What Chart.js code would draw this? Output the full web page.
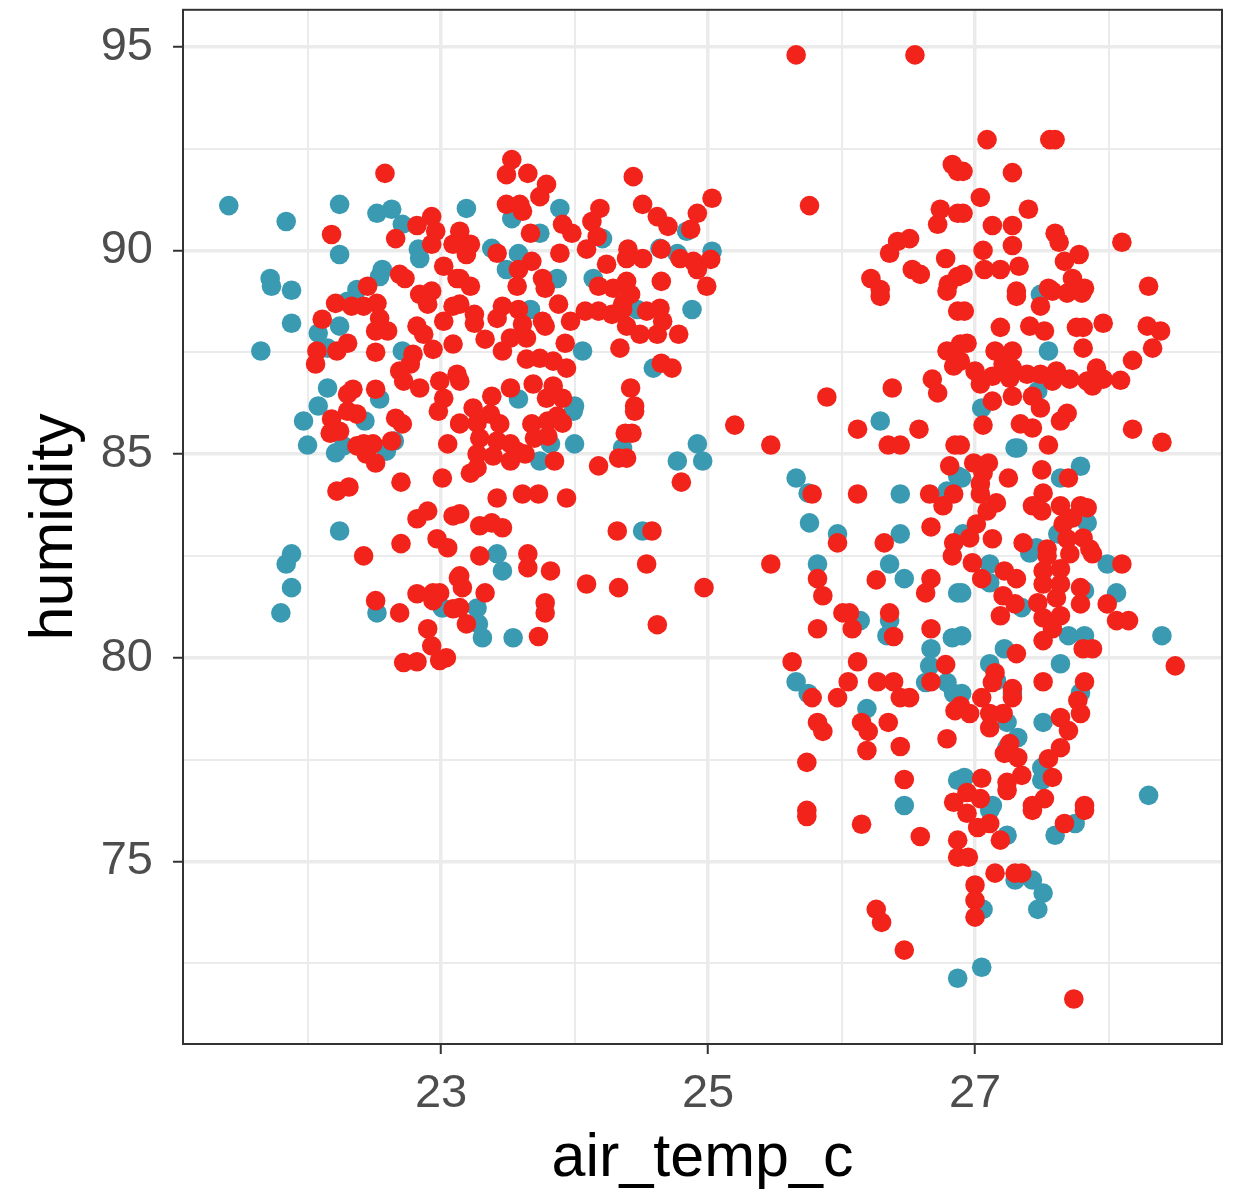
<!DOCTYPE html>
<html>
<head>
<meta charset="utf-8">
<script src="https://cdn.jsdelivr.net/npm/chart.js@4/dist/chart.umd.min.js"></script>
<style>
  html, body { margin: 0; padding: 0; background: #ffffff; }
  #wrap { width: 1234px; height: 1196px; }
</style>
</head>
<body>
<div id="wrap"><canvas id="chart" width="1234" height="1196"></canvas></div>
<script>
// Axis ranges and tick positions
const xRange = [21.067, 28.85];
const yRange = [70.515, 95.907];
const xMajorTicks = [23, 25, 27];
const xMinorTicks = [22, 24, 26, 28];
const yMajorTicks = [75, 80, 85, 90, 95];
const yMinorTicks = [72.5, 77.5, 82.5, 87.5, 92.5];

// Observations: [air_temp_c, humidity]
const tealPoints = [
  [21.41,91.10],[21.84,90.71],[21.72,89.31],[21.73,89.12],[21.88,89.02],[21.88,88.21],[21.65,87.53],
  [22.24,91.13],[22.52,90.91],[22.63,91.01],[22.71,90.64],[22.24,89.90],[22.83,90.03],[22.84,89.80],
  [22.56,89.53],[22.54,89.36],[22.37,89.04],[22.30,88.75],[22.08,87.97],[22.24,88.14],[22.15,87.60],
  [22.71,87.53],[22.15,86.62],[22.08,86.18],[22.54,86.35],[21.97,85.81],[22.00,85.22],[22.21,85.03],
  [22.27,85.20],[22.43,85.81],[22.59,85.07],[22.65,85.32],[22.24,83.11],[21.88,82.55],[21.84,82.30],
  [21.88,81.72],[21.80,81.10],[22.52,81.10],[23.01,81.22],
  [23.19,91.03],[23.53,90.78],[23.89,91.03],[23.74,90.42],[24.21,90.29],[23.38,90.05],[23.58,89.92],
  [23.49,89.53],[23.87,89.31],[24.14,89.31],[23.67,88.55],[24.64,90.05],[24.77,89.92],[24.84,90.47],
  [25.03,89.98],[24.88,88.55],[24.47,88.55],[24.06,87.53],[24.59,87.11],[23.58,86.35],[24.00,86.18],
  [24.00,85.25],[24.36,85.15],[23.74,84.83],[23.82,85.25],[23.99,86.05],[24.77,84.83],[24.92,85.25],
  [24.96,84.83],[24.51,83.11],[23.42,82.55],[23.46,82.13],[23.27,81.22],[23.28,80.83],[23.31,80.49],
  [23.54,80.49],
  [26.29,85.81],[25.66,84.41],[25.75,84.04],[25.76,83.31],[25.97,83.04],[26.44,84.02],[26.44,83.04],
  [26.79,84.09],[26.87,84.46],[25.82,82.30],[26.36,82.30],[26.47,81.94],[26.87,81.59],[26.14,80.91],
  [26.36,80.91],[26.34,80.54],[26.83,80.49],[26.67,80.22],[26.66,79.80],[26.63,79.39],[26.79,79.39],
  [26.84,79.12],[25.66,79.41],[25.75,79.12],[26.19,78.75],[26.87,76.99],[26.47,76.37],[26.87,72.13],
  [27.11,76.25],[27.24,75.64],[27.60,75.64],[27.75,75.93],[27.30,74.54],[27.43,74.54],[27.51,74.22],
  [27.47,73.82],[27.06,73.82],[27.05,72.40],[28.30,76.62],
  [27.11,82.30],[27.11,81.84],[26.90,81.59],[27.41,82.57],[27.99,82.30],[28.06,81.59],[27.82,81.64],
  [27.35,81.23],[26.90,80.54],[27.70,80.54],[27.82,80.54],[28.40,80.54],[27.22,80.22],[27.64,79.85],
  [27.11,79.85],[27.16,79.44],[27.28,79.12],[27.79,79.14],[26.90,79.12],[27.51,78.41],[27.24,78.41],
  [27.32,78.04],[27.24,77.79],[27.50,77.30],[27.50,76.99],[26.92,77.06],[27.13,76.37],
  [27.55,87.53],[27.47,86.55],[27.05,86.13],[27.30,85.15],[27.32,85.15],[27.79,84.70],[27.64,84.41],
  [26.90,84.41],[27.84,83.31],[27.62,83.04],[26.91,83.04],[27.46,82.70],[27.49,88.92]
];

const redPoints = [
  [22.58,91.89],[22.18,90.39],[22.66,90.29],[22.82,90.61],[22.93,90.83],[22.96,90.47],[22.93,90.15],
  [23.09,90.15],[23.02,89.61],[23.12,89.31],[22.69,89.41],[22.73,89.31],[22.45,89.12],[22.84,88.92],
  [22.93,89.00],[22.90,88.68],[23.09,88.63],[22.21,88.70],[22.33,88.63],[22.42,88.63],[22.52,88.70],
  [22.54,88.33],[22.51,88.02],[22.60,88.02],[22.11,88.31],[22.82,88.14],[22.87,87.94],[23.02,88.26],
  [22.30,87.72],[22.07,87.53],[22.06,87.21],[22.22,87.53],[22.51,87.50],[22.79,87.45],[22.94,87.57],
  [23.09,87.70],[22.77,87.21],[22.72,86.79],[22.84,86.62],[22.99,86.79],[23.02,86.37],[22.51,86.59],
  [22.30,86.47],[22.34,86.59],[23.12,86.96],[22.69,87.04],
  [23.53,92.23],[23.49,91.86],[23.65,91.89],[23.79,91.62],[23.74,91.32],[23.49,91.13],[23.59,91.13],
  [23.61,90.96],[23.67,90.42],[23.91,90.64],[23.98,90.42],[24.19,91.03],[24.13,90.71],[24.17,90.34],
  [24.09,90.03],[24.44,91.81],[24.51,91.13],[24.62,90.83],[24.70,90.59],[24.87,90.52],[24.92,90.91],
  [25.03,91.28],[23.89,89.93],[24.40,90.03],[24.39,89.80],[24.51,89.80],[24.65,90.03],[24.79,89.80],
  [24.89,89.73],[24.92,89.53],[25.02,89.78],[24.99,89.12],[24.65,89.24],[24.24,89.66],[24.18,89.12],
  [24.29,89.07],[24.39,89.24],[24.42,88.92],[24.36,88.68],[23.14,90.47],[23.22,90.15],[23.19,89.90],
  [23.42,89.93],[23.68,89.73],[23.76,89.31],[23.78,89.07],[23.58,89.53],[23.57,89.12],[23.14,89.31],
  [23.22,89.12],[23.14,88.68],[23.25,88.43],[23.25,88.21],[23.46,88.63],[23.58,88.55],[23.42,88.33],
  [23.61,88.19],[23.76,88.26],[23.78,88.14],[23.88,88.68],[23.97,88.26],[24.08,88.51],[24.18,88.51],
  [24.28,88.43],[24.36,88.55],[24.39,88.14],[24.49,87.94],[24.62,87.94],[24.78,87.94],[24.54,88.51],
  [24.64,88.58],[24.66,88.26],[23.33,87.82],[23.46,87.53],[23.52,87.85],[23.64,87.85],[23.64,87.33],
  [23.74,87.35],[23.84,87.28],[23.94,87.11],[23.93,87.72],[24.34,87.60],[24.65,87.23],[24.73,87.11],
  [23.69,86.72],[23.84,86.67],[23.52,86.62],[23.38,86.42],[23.79,86.37],[23.91,86.37],[24.42,86.62],
  [24.45,86.18],[23.14,86.79],[23.24,86.13],
  [22.18,85.86],[22.17,85.51],[22.24,85.56],[22.30,86.05],[22.37,85.98],[22.42,85.25],[22.49,85.25],
  [22.44,85.00],[22.51,84.78],[22.37,85.20],[22.63,85.32],[22.66,85.88],[22.71,85.74],[22.98,86.05],
  [23.05,85.25],[23.14,85.76],[22.22,84.09],[22.31,84.19],[22.70,84.31],[23.01,84.41],[22.82,83.41],
  [22.90,83.60],[23.09,83.48],[22.70,82.80],[22.97,82.92],[23.05,82.70],[22.42,82.50],[22.51,81.40],
  [22.69,81.10],[22.82,81.57],[22.94,81.59],[22.99,81.59],[22.94,81.40],[23.09,81.20],[23.13,81.96],
  [22.90,80.71],[22.93,80.29],[22.72,79.88],[22.82,79.90],[23.04,80.00],[22.99,79.93],
  [23.14,85.74],[23.27,85.76],[23.37,85.98],[23.44,85.74],[23.29,85.39],[23.42,85.32],[23.52,85.25],
  [23.57,85.07],[23.63,85.00],[23.27,85.00],[23.39,84.95],[23.52,84.83],[23.22,84.53],[23.27,84.66],
  [23.68,85.74],[23.70,85.39],[23.80,85.81],[23.87,85.93],[23.91,85.76],[23.80,85.44],[23.85,84.83],
  [24.38,85.51],[24.43,85.51],[24.33,84.90],[24.39,84.90],[24.45,86.05],[24.18,84.71],[24.80,84.31],
  [23.42,83.92],[23.61,84.02],[23.73,84.02],[23.94,83.92],[23.14,83.53],[23.29,83.24],[23.38,83.31],
  [23.46,83.19],[24.32,83.11],[24.58,83.11],[23.29,82.50],[23.65,82.55],[23.65,82.21],[23.82,82.13],
  [23.14,82.01],[23.16,81.72],[23.33,81.59],[24.54,82.30],[24.09,81.81],[24.33,81.72],[24.97,81.72],
  [23.78,81.35],[23.78,81.10],[23.14,81.23],[23.19,80.83],[24.62,80.81],[23.73,80.52],
  [25.66,94.80],[26.55,94.80],[25.76,91.10],[26.83,92.11],[26.87,91.94],[26.74,91.01],[26.72,90.64],
  [26.87,90.91],[26.51,90.29],[26.42,90.22],[26.36,89.93],[26.78,89.80],[26.22,89.31],[26.53,89.53],
  [26.59,89.41],[26.29,89.04],[26.80,89.17],[26.87,89.36],
  [27.09,92.72],[27.56,92.72],[27.60,92.72],[26.91,91.94],[27.28,91.91],[27.04,91.30],[26.91,90.91],
  [27.40,91.01],[27.13,90.61],[27.28,90.61],[27.28,90.12],[27.60,90.42],[27.63,90.20],[28.10,90.20],
  [27.06,90.00],[27.07,89.53],[27.19,89.53],[27.33,89.61],[27.78,89.90],[27.67,89.73],[26.91,89.41],
  [27.73,89.31],[27.82,89.07],[27.55,89.07],[27.31,89.00],[28.30,89.12],
  [26.29,88.87],[26.79,89.00],[26.87,88.51],[26.79,87.53],[26.84,87.16],[26.89,87.70],[26.68,86.84],
  [26.72,86.50],[26.38,86.62],[25.89,86.40],[25.20,85.71],[25.47,85.22],[26.12,85.61],[26.58,85.61],
  [26.35,85.22],[26.44,85.22],[26.85,85.22],[26.81,84.71],[25.78,84.02],[26.12,84.02],[26.66,84.02],
  [26.84,84.02],[26.76,83.73],[26.67,83.21],[25.97,82.82],[26.32,82.82],[26.84,82.82],
  [27.31,88.87],[27.58,89.00],[27.69,88.95],[27.80,88.95],[26.92,88.51],[27.49,88.63],[27.19,88.11],
  [27.41,88.14],[27.52,88.02],[27.76,88.11],[27.81,88.11],[27.96,88.21],[28.29,88.14],[28.39,88.02],
  [28.33,87.60],[27.81,87.60],[26.94,87.72],[27.15,87.53],[27.28,87.53],[26.89,87.28],[27.00,87.04],
  [27.04,86.72],[27.13,86.91],[27.21,87.21],[27.28,87.11],[27.26,86.86],[27.39,86.96],[27.49,86.96],
  [27.61,87.04],[27.58,86.79],[27.71,86.84],[27.84,86.79],[27.88,86.67],[27.91,87.11],[27.96,86.84],
  [28.09,86.81],[28.18,87.30],[27.13,86.30],[27.28,86.42],[27.43,86.42],[27.49,86.13],[27.43,85.64],
  [27.34,85.74],[27.69,86.00],[27.64,85.81],[27.06,85.71],[27.55,85.22],[28.18,85.61],[28.40,85.29],
  [26.89,85.22],[26.99,84.78],[27.10,84.78],[27.06,84.53],[27.04,84.27],[27.25,84.41],[27.50,84.61],
  [27.70,84.41],[27.04,84.02],[27.16,83.80],[27.09,83.60],[27.51,84.04],[27.43,83.73],[27.50,83.60],
  [27.64,83.73],[27.79,83.73],[27.84,83.68],[27.73,83.43],[27.66,83.28],[27.01,83.28],[26.96,82.94],
  [27.13,82.92],[27.36,82.82],[27.69,82.92],[27.81,82.94],[27.86,82.67],[27.54,82.67],
  [25.47,82.30],[25.82,81.94],[25.86,81.52],[26.26,81.91],[26.67,81.94],[26.63,81.59],[26.01,81.10],
  [26.06,81.10],[26.08,80.71],[26.36,81.10],[26.39,80.52],[25.82,80.71],[26.67,80.71],[26.83,82.50],
  [25.63,79.90],[26.12,79.90],[26.78,79.83],[26.05,79.41],[25.97,79.02],[25.78,79.02],[26.27,79.41],
  [26.39,79.41],[26.44,79.02],[26.51,79.02],[26.67,79.41],[26.85,78.70],[25.82,78.41],[25.86,78.19],
  [26.15,78.41],[26.20,78.19],[26.35,78.41],[26.44,77.82],[26.19,77.72],[26.79,78.01],[25.74,77.43],
  [26.47,77.01],[25.74,76.25],[26.84,76.45],
  [26.98,82.33],[27.05,81.94],[27.22,82.13],[27.31,81.94],[27.21,81.52],[27.30,81.32],[27.19,81.03],
  [27.54,82.50],[27.51,82.13],[27.64,82.18],[27.51,81.81],[27.64,81.81],[27.61,81.47],[27.79,81.72],
  [27.79,81.32],[27.47,81.35],[27.51,80.98],[27.64,81.03],[27.58,80.71],[27.51,80.42],[27.71,82.55],
  [27.88,82.55],[28.10,82.30],[27.99,81.32],[28.06,80.91],[28.15,80.91],[27.31,80.10],[27.81,80.22],
  [27.88,80.22],[28.50,79.80],[27.15,79.63],[27.13,79.39],[27.51,79.41],[27.82,79.41],[27.05,79.02],
  [27.28,79.24],[27.28,79.02],[26.89,78.82],[26.96,78.63],[27.11,78.63],[27.21,78.63],[27.11,78.28],
  [27.77,78.95],[27.79,78.63],[27.64,78.53],[27.70,78.21],[27.64,77.79],[27.55,77.52],[27.58,77.06],
  [27.26,77.89],[27.22,77.65],[27.32,77.55],[27.35,77.11],[27.24,76.94],[27.24,76.74],[27.05,77.04],
  [26.94,76.69],[27.04,76.54],[27.52,76.54],[27.43,76.37],[27.82,76.37],
  [25.74,76.10],[26.15,75.91],[26.59,75.61],[26.87,75.52],[26.87,75.10],[26.26,73.82],[26.30,73.50],
  [26.47,72.82],
  [26.94,76.18],[27.02,75.83],[27.11,75.93],[26.95,75.10],[27.19,75.52],[27.43,76.25],[27.67,75.93],
  [27.82,76.25],[27.15,74.71],[27.30,74.71],[27.35,74.71],[27.00,74.42],[27.00,74.04],[27.00,73.63],
  [27.74,71.62]
];

const TEAL = '#3A9AB2';
const RED = '#F2231A';
const FONT = "'Liberation Sans', Arial, sans-serif";

const toXY = arr => arr.map(([x, y]) => ({ x, y }));

// Dark frame around the plotting panel
const panelFrame = {
  id: 'panelFrame',
  afterDatasetsDraw(chart) {
    const { ctx, chartArea: a } = chart;
    ctx.save();
    ctx.strokeStyle = '#333333';
    ctx.lineWidth = 2;
    ctx.strokeRect(a.left, a.top, a.right - a.left, a.bottom - a.top);
    ctx.restore();
  }
};

function gridStyle(majors) {
  return {
    color: '#EBEBEB',
    lineWidth: c => (c.tick && majors.includes(c.tick.value)) ? 3.5 : 2,
    drawTicks: true,
    tickLength: 10,
    tickWidth: 2,
    tickColor: c => (c.tick && majors.includes(c.tick.value)) ? '#333333' : 'rgba(0,0,0,0)'
  };
}

// Keep tick labels from pushing the panel inward
function noLabelPadding(s) {
  s.paddingTop = 0; s.paddingBottom = 0; s.paddingLeft = 0; s.paddingRight = 0;
}

new Chart(document.getElementById('chart'), {
  type: 'scatter',
  data: {
    datasets: [
      { label: 'red', data: toXY(redPoints), backgroundColor: RED, pointRadius: 9.8, pointHoverRadius: 9.8, borderWidth: 0 },
      { label: 'teal', data: toXY(tealPoints), backgroundColor: TEAL, pointRadius: 9.8, pointHoverRadius: 9.8, borderWidth: 0 }
    ]
  },
  options: {
    responsive: false,
    animation: false,
    devicePixelRatio: 1,
    layout: { padding: { left: 0, top: 8, right: 12, bottom: 0 } },
    plugins: { legend: { display: false }, tooltip: { enabled: false } },
    scales: {
      x: {
        type: 'linear',
        min: xRange[0],
        max: xRange[1],
        afterFit(s) { s.height = 152; noLabelPadding(s); },
        afterBuildTicks(s) { s.ticks = [...xMinorTicks, ...xMajorTicks].sort((a, b) => a - b).map(v => ({ value: v })); },
        ticks: {
          autoSkip: false,
          maxRotation: 0,
          padding: 12,
          color: '#4D4D4D',
          font: { family: FONT, size: 47 },
          callback: v => xMajorTicks.includes(v) ? String(v) : ''
        },
        grid: gridStyle(xMajorTicks),
        border: { display: false },
        title: { display: true, text: 'air_temp_c', color: '#000000', font: { family: FONT, size: 61 }, padding: { top: 0, bottom: 0 } }
      },
      y: {
        type: 'linear',
        min: yRange[0],
        max: yRange[1],
        afterFit(s) { s.width = 183; noLabelPadding(s); },
        afterBuildTicks(s) { s.ticks = [...yMinorTicks, ...yMajorTicks].sort((a, b) => a - b).map(v => ({ value: v })); },
        ticks: {
          autoSkip: false,
          padding: 20,
          color: '#4D4D4D',
          font: { family: FONT, size: 47 },
          callback: v => yMajorTicks.includes(v) ? String(v) : ''
        },
        grid: gridStyle(yMajorTicks),
        border: { display: false },
        title: { display: true, text: 'humidity', color: '#000000', font: { family: FONT, size: 61 }, padding: { top: 19, bottom: 0 } }
      }
    }
  },
  plugins: [panelFrame]
});
</script>
</body>
</html>
